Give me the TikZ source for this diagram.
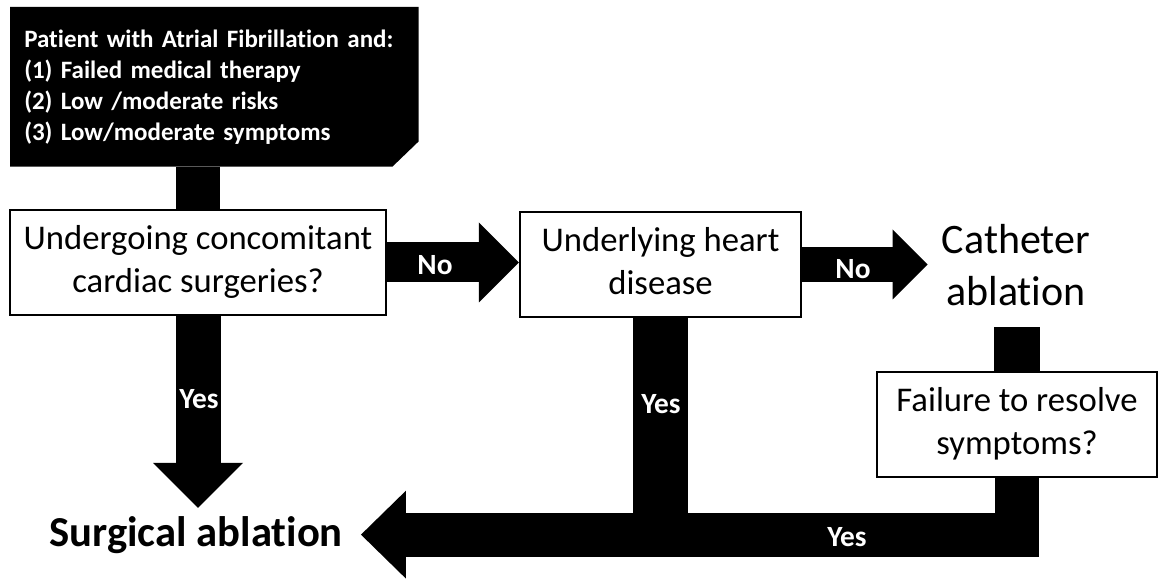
\documentclass[tikz,border=0pt]{standalone}
\usepackage{fontspec}
\setmainfont{Carlito}[Ligatures=NoCommon]
\usetikzlibrary{arrows.meta,calc,backgrounds}
\begin{document}
\begin{tikzpicture}[x=0.75pt,y=-0.75pt,
  box/.style={draw=black, line width=1.6pt, fill=white, align=center,
    font=\fontsize{26}{32.25}\selectfont, inner sep=0pt},
  lbl/.style={text=white, font=\bfseries\fontsize{22}{26}\selectfont, inner sep=0pt},
  bar/.style={draw=black, line width=#1},
]
\useasboundingbox (0,0) rectangle (1158,581);

% nodes
\node[anchor=north west, text=white, font=\bfseries\fontsize{18.75}{23.25}\selectfont,
  text width=285pt, align=left, inner xsep=10.5pt, inner ysep=0pt,
  minimum height=119.25pt] (top) at (10,7)
  {Patient with Atrial Fibrillation and:\\(1) Failed medical therapy\\(2) Low /moderate risks\\(3) Low/moderate symptoms};

\node[box, minimum width=282pt, minimum height=78.75pt] (b1) at (198,262.5)
  {\strut Undergoing concomitant\\\strut cardiac surgeries?};
\node[box, minimum width=210.75pt, minimum height=78.75pt] (b2) at (660.5,264.5)
  {\strut Underlying heart\\\strut disease};
\node[box, minimum width=210pt, minimum height=78.75pt] (fail) at (1017,424.5)
  {\strut Failure to resolve\\\strut symptoms?};
\node[font=\fontsize{31.5}{39}\selectfont, align=center, inner xsep=10.5pt,
  inner ysep=15.75pt] (cat) at (1016,265) {Catheter\\ablation};
\node[font=\bfseries\fontsize{32}{38}\selectfont, inner xsep=13.5pt, inner ysep=6pt,
  anchor=base] (s) at (196,546) {Surgical ablation};

\coordinate (bend) at (fail.south |- s.east);

% background shapes and connectors
\begin{scope}[on background layer]
  \fill[black] (top.north west) -- (top.north east) -- ($(top.south east)+(0,-25)$)
    -- ($(top.south east)+(-26,0)$) -- (top.south west) -- cycle;
  \draw[bar=33pt] (b1.north |- top.south) -- (b1.north);
  \draw[bar=30pt, -{Triangle[length=30pt, width=60pt, line width=0pt]}]
    (b1.east) -- (b1.east -| b2.west);
  \draw[bar=26.25pt, -{Triangle[length=26.25pt, width=52.5pt, line width=0pt]}]
    (b2.east) -- (b2.east -| cat.west);
  \draw[bar=33.75pt, -{Triangle[length=33.75pt, width=67.5pt, line width=0pt]}]
    (b1.south) -- (b1.south |- s.north);
  \draw[bar=34.5pt] (fail.north |- cat.south) -- (fail.north);
  \draw[bar=41.25pt] (b2.south) -- (b2.south |- bend);
  \draw[bar=33pt, line join=miter, -{Triangle[length=33.75pt, width=66pt, line width=0pt]}]
    (fail.south) -- (bend) -- (s.east);
\end{scope}

% labels
\node[lbl] (no1) at (435,265) {No};
\node[lbl] (no2) at (853,269) {No};
\node[lbl] (yes1) at (199,399) {Yes};
\node[lbl] (yes2) at (661,404) {Yes};
\node[lbl] (yes3) at (847,537) {Yes};
\end{tikzpicture}
\end{document}
